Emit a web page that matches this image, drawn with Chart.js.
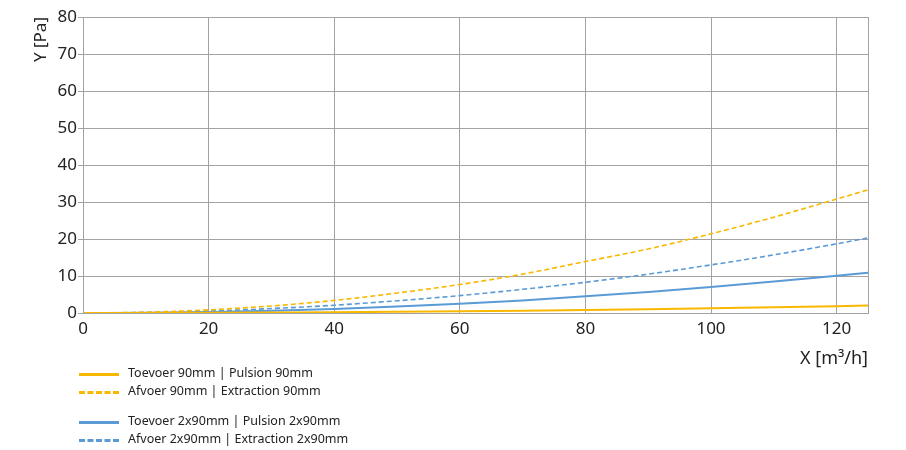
<!DOCTYPE html>
<html>
<head>
<meta charset="utf-8">
<script src="https://cdn.jsdelivr.net/npm/chart.js@4/dist/chart.umd.min.js"></script>
<style>
  html, body { margin: 0; padding: 0; background: #fff; }
  #wrap { position: relative; width: 906px; height: 450px; }
  #legend { position: absolute; left: 79px; top: 364px; font-family: 'Noto Sans', sans-serif; font-size: 12.5px; color: #222; }
  .item { position: relative; height: 18px; line-height: 18px; padding-left: 49px; white-space: nowrap; }
  .item .swatch { position: absolute; left: 0; top: 9px; width: 40px; height: 0; border-top-width: 3px; }
  .gap { height: 12px; }
</style>
</head>
<body>
<div id="wrap">
  <canvas id="chart" width="906" height="450"></canvas>
  <div id="legend"></div>
</div>
<script>
// --- data ---
const xValues = [0, 10, 20, 30, 40, 50, 60, 70, 80, 90, 100, 110, 120, 125];
const supply90 = [0, 0.01, 0.05, 0.12, 0.2, 0.32, 0.46, 0.63, 0.82, 1.04, 1.28, 1.55, 1.84, 2.0];
const exhaust90 = [0, 0.2, 0.86, 1.9, 3.4, 5.4, 7.7, 10.5, 13.9, 17.3, 21.4, 25.9, 30.8, 33.3];
const supply2x90 = [0, 0.07, 0.28, 0.63, 1.1, 1.75, 2.5, 3.4, 4.5, 5.7, 7.0, 8.5, 10.1, 10.9];
const exhaust2x90 = [0, 0.13, 0.52, 1.2, 2.1, 3.3, 4.7, 6.4, 8.3, 10.5, 13.0, 15.7, 18.7, 20.3];

const seriesLabels = [
    'Toevoer 90mm | Pulsion 90mm',
    'Afvoer 90mm | Extraction 90mm',
    'Toevoer 2x90mm | Pulsion 2x90mm',
    'Afvoer 2x90mm | Extraction 2x90mm'
];
const xTitle = 'X [m³/h]';
const yTitle = 'Y [Pa]';

// Styles
const YELLOW = '#F9B800';
const BLUE = '#5B9BD5';
const GRID = '#a3a3a3';
const FONT = "'Noto Sans', sans-serif";

const toPoints = (ys) => xValues.map((x, i) => ({ x: x, y: ys[i] }));

const makeSet = (label, ys, color, dashed) => ({
    label: label,
    data: toPoints(ys),
    borderColor: color,
    backgroundColor: color,
    borderWidth: dashed ? 1.6 : 2,
    borderDash: dashed ? [5, 3] : [],
    pointRadius: 0,
    cubicInterpolationMode: 'monotone',
    fill: false
});

// caixa à volta da área do gráfico
const frame = {
    id: 'frame',
    afterDatasetsDraw(chart) {
        const { ctx, chartArea: a } = chart;
        ctx.save();
        ctx.strokeStyle = GRID;
        ctx.lineWidth = 1;
        ctx.strokeRect(a.left + 0.5, a.top + 0.5, a.right - a.left, a.bottom - a.top);
        ctx.restore();
    }
};

new Chart(document.getElementById('chart').getContext('2d'), {
    type: 'line',
    data: {
        datasets: [
            makeSet(seriesLabels[0], supply90, YELLOW, false),
            makeSet(seriesLabels[1], exhaust90, YELLOW, true),
            makeSet(seriesLabels[2], supply2x90, BLUE, false),
            makeSet(seriesLabels[3], exhaust2x90, BLUE, true)
        ]
    },
    options: {
        responsive: false,
        animation: false,
        layout: { padding: { left: 28, right: 38, top: 17, bottom: 80 } },
        plugins: { legend: { display: false }, tooltip: { enabled: false } },
        scales: {
            x: {
                type: 'linear',
                min: 0,
                max: 125,
                ticks: { stepSize: 20, includeBounds: false, color: '#222', font: { family: FONT, size: 17 }, padding: 6, maxRotation: 0 },
                grid: { color: GRID, drawTicks: false },
                border: { color: GRID },
                title: { display: true, text: xTitle, align: 'end', color: '#222', font: { family: FONT, size: 18 }, padding: { top: 0, bottom: 0 } },
                afterFit: (scale) => { scale.height = 57; }
            },
            y: {
                min: 0,
                max: 80,
                ticks: { stepSize: 10, color: '#222', font: { family: FONT, size: 17 }, padding: 1 },
                grid: { color: GRID, tickLength: 5 },
                border: { color: GRID },
                title: { display: true, text: yTitle, align: 'end', color: '#222', font: { family: FONT, size: 17 }, padding: { top: 3, bottom: 0 } },
                afterFit: (scale) => { scale.width = 55; }
            }
        }
    },
    plugins: [frame]
});

// Legenda em HTML
const legendEl = document.getElementById('legend');
const legendSpec = [
    { color: YELLOW, dashed: false },
    { color: YELLOW, dashed: true },
    null,
    { color: BLUE, dashed: false },
    { color: BLUE, dashed: true }
];
let k = 0;
legendSpec.forEach(s => {
    const div = document.createElement('div');
    if (!s) { div.className = 'gap'; legendEl.appendChild(div); return; }
    div.className = 'item';
    const sw = document.createElement('span');
    sw.className = 'swatch';
    sw.style.borderTopStyle = s.dashed ? 'dashed' : 'solid';
    sw.style.borderTopColor = s.color;
    div.appendChild(sw);
    div.appendChild(document.createTextNode(seriesLabels[k++]));
    legendEl.appendChild(div);
});
</script>
</body>
</html>
